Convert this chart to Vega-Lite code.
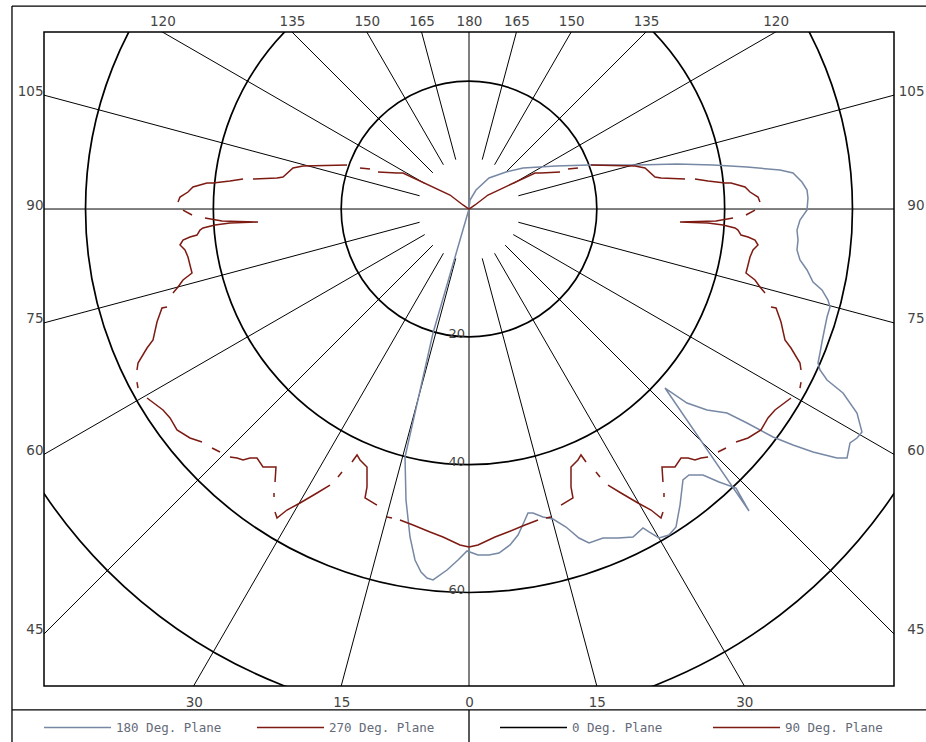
{
  "$schema": "https://vega.github.io/schema/vega-lite/v6.json",
  "width": 850,
  "height": 654,
  "autosize": {"type": "none"},
  "padding": {"left": 44, "top": 32, "right": 32, "bottom": 56},
  "background": "white",
  "config": {
    "view": {"stroke": "black", "strokeWidth": 1.5},
    "axis": {"labelFont": "DejaVu Sans", "labelFontSize": 13.5, "labelColor": "#444444", "ticks": false, "domain": false, "grid": false, "labelOverlap": false, "labelFlush": false}
  },
  "resolve": {"axis": {"x": "independent", "y": "independent"}},
  "layer": [
    {
      "data": {"values": [{"r": 20}, {"r": 40}, {"r": 60}, {"r": 80}]},
      "mark": {"type": "arc", "filled": false, "stroke": "black", "strokeWidth": 1.7, "clip": true, "theta": 0, "theta2": 6.2832},
      "encoding": {
        "x": {"datum": 0, "type": "quantitative", "scale": {"domain": [-66.5, 66.5], "nice": false, "zero": false}, "axis": null},
        "y": {"datum": 0, "type": "quantitative", "scale": {"domain": [-74.64, 27.7], "nice": false, "zero": false}, "axis": null},
        "radius": {"field": "r", "type": "quantitative", "stack": null, "scale": {"type": "linear", "domain": [0, 80], "range": [0, 511.3], "zero": true}}
      }
    },
    {
      "data": {"values": [
        {"a": 0, "x1": 0, "y1": -110, "x2": 0, "y2": 110},
        {"a": 90, "x1": -110, "y1": 0, "x2": 110, "y2": 0},
        {"a": 15, "x1": -2.071, "y1": -7.727, "x2": -28.47, "y2": -106.25},
        {"a": 30, "x1": -4, "y1": -6.928, "x2": -55, "y2": -95.26},
        {"a": 45, "x1": -5.657, "y1": -5.657, "x2": -77.78, "y2": -77.78},
        {"a": 60, "x1": -6.928, "y1": -4, "x2": -95.26, "y2": -55},
        {"a": 75, "x1": -7.727, "y1": -2.071, "x2": -106.25, "y2": -28.47},
        {"a": 105, "x1": -7.727, "y1": 2.071, "x2": -106.25, "y2": 28.47},
        {"a": 120, "x1": -6.928, "y1": 4, "x2": -95.26, "y2": 55},
        {"a": 135, "x1": -5.657, "y1": 5.657, "x2": -77.78, "y2": 77.78},
        {"a": 150, "x1": -4, "y1": 6.928, "x2": -55, "y2": 95.26},
        {"a": 165, "x1": -2.071, "y1": 7.727, "x2": -28.47, "y2": 106.25},
        {"a": 15, "x1": 2.071, "y1": -7.727, "x2": 28.47, "y2": -106.25},
        {"a": 30, "x1": 4, "y1": -6.928, "x2": 55, "y2": -95.26},
        {"a": 45, "x1": 5.657, "y1": -5.657, "x2": 77.78, "y2": -77.78},
        {"a": 60, "x1": 6.928, "y1": -4, "x2": 95.26, "y2": -55},
        {"a": 75, "x1": 7.727, "y1": -2.071, "x2": 106.25, "y2": -28.47},
        {"a": 105, "x1": 7.727, "y1": 2.071, "x2": 106.25, "y2": 28.47},
        {"a": 120, "x1": 6.928, "y1": 4, "x2": 95.26, "y2": 55},
        {"a": 135, "x1": 5.657, "y1": 5.657, "x2": 77.78, "y2": 77.78},
        {"a": 150, "x1": 4, "y1": 6.928, "x2": 55, "y2": 95.26},
        {"a": 165, "x1": 2.071, "y1": 7.727, "x2": 28.47, "y2": 106.25}
      ]},
      "mark": {"type": "rule", "clip": true, "color": "black", "strokeWidth": 1},
      "encoding": {
        "x": {"field": "x1", "type": "quantitative", "scale": {"domain": [-66.5, 66.5], "nice": false, "zero": false},
              "axis": {"orient": "top", "title": null, "values": [-47.98, -27.7, -15.99, -7.42, 0, 7.42, 15.99, 27.7, 47.98],
                       "labelExpr": "format(180 - atan(abs(datum.value)/27.7)*180/PI, '.0f')", "labelPadding": 3.5}},
        "y": {"field": "y1", "type": "quantitative", "scale": {"domain": [-74.64, 27.7], "nice": false, "zero": false},
              "axis": {"orient": "left", "title": null, "values": [17.82, 0, -17.82, -38.39, -66.5],
                       "labelExpr": "format(90 + atan(datum.value/66.5)*180/PI, '.0f')", "labelBaseline": "alphabetic", "labelPadding": 1}},
        "x2": {"field": "x2"},
        "y2": {"field": "y2"}
      }
    },
    {
      "data": {"values": [{"v": -20, "t": "20"}, {"v": -40, "t": "40"}, {"v": -60, "t": "60"}]},
      "mark": {"type": "text", "align": "right", "baseline": "alphabetic", "dx": -4, "dy": 1.5, "font": "DejaVu Sans", "fontSize": 13, "color": "#444444"},
      "encoding": {
        "x": {"datum": 0, "type": "quantitative", "scale": {"domain": [-66.5, 66.5], "nice": false, "zero": false}, "axis": null},
        "y": {"field": "v", "type": "quantitative", "scale": {"domain": [-74.64, 27.7], "nice": false, "zero": false}, "axis": null},
        "text": {"field": "t"}
      }
    },
    {
      "data": {"values": [
        {"s": "180 Deg. Plane", "g": "B", "i": 0, "x": 0, "y": 0},
        {"s": "180 Deg. Plane", "g": "B", "i": 1, "x": -5.63, "y": -19.40},
        {"s": "180 Deg. Plane", "g": "B", "i": 2, "x": -10.01, "y": -38.80},
        {"s": "180 Deg. Plane", "g": "B", "i": 3, "x": -9.86, "y": -45.53},
        {"s": "180 Deg. Plane", "g": "B", "i": 4, "x": -9.23, "y": -51.32},
        {"s": "180 Deg. Plane", "g": "B", "i": 5, "x": -8.45, "y": -54.92},
        {"s": "180 Deg. Plane", "g": "B", "i": 6, "x": -7.51, "y": -56.80},
        {"s": "180 Deg. Plane", "g": "B", "i": 7, "x": -6.57, "y": -57.74},
        {"s": "180 Deg. Plane", "g": "B", "i": 8, "x": -5.63, "y": -58.05},
        {"s": "180 Deg. Plane", "g": "B", "i": 9, "x": -3.44, "y": -56.49},
        {"s": "180 Deg. Plane", "g": "B", "i": 10, "x": -1.72, "y": -54.92},
        {"s": "180 Deg. Plane", "g": "B", "i": 11, "x": -0.31, "y": -53.51},
        {"s": "180 Deg. Plane", "g": "B", "i": 12, "x": 1.41, "y": -54.14},
        {"s": "180 Deg. Plane", "g": "B", "i": 13, "x": 3.13, "y": -54.14},
        {"s": "180 Deg. Plane", "g": "B", "i": 14, "x": 4.69, "y": -53.83},
        {"s": "180 Deg. Plane", "g": "B", "i": 15, "x": 6.42, "y": -52.57},
        {"s": "180 Deg. Plane", "g": "B", "i": 16, "x": 7.67, "y": -51.01},
        {"s": "180 Deg. Plane", "g": "B", "i": 17, "x": 8.61, "y": -48.98},
        {"s": "180 Deg. Plane", "g": "B", "i": 18, "x": 9.23, "y": -47.57},
        {"s": "180 Deg. Plane", "g": "B", "i": 19, "x": 10.01, "y": -47.57},
        {"s": "180 Deg. Plane", "g": "B", "i": 20, "x": 11.58, "y": -48.19},
        {"s": "180 Deg. Plane", "g": "B", "i": 21, "x": 13.14, "y": -48.51},
        {"s": "180 Deg. Plane", "g": "B", "i": 22, "x": 15.18, "y": -49.76},
        {"s": "180 Deg. Plane", "g": "B", "i": 23, "x": 17.21, "y": -51.48},
        {"s": "180 Deg. Plane", "g": "B", "i": 24, "x": 18.78, "y": -52.26},
        {"s": "180 Deg. Plane", "g": "B", "i": 25, "x": 20.97, "y": -51.48},
        {"s": "180 Deg. Plane", "g": "B", "i": 26, "x": 23.31, "y": -51.48},
        {"s": "180 Deg. Plane", "g": "B", "i": 27, "x": 25.66, "y": -51.32},
        {"s": "180 Deg. Plane", "g": "B", "i": 28, "x": 27.23, "y": -49.91},
        {"s": "180 Deg. Plane", "g": "B", "i": 29, "x": 28.16, "y": -50.54},
        {"s": "180 Deg. Plane", "g": "B", "i": 30, "x": 29.73, "y": -51.48},
        {"s": "180 Deg. Plane", "g": "B", "i": 31, "x": 31.29, "y": -51.01},
        {"s": "180 Deg. Plane", "g": "B", "i": 32, "x": 32.39, "y": -49.76},
        {"s": "180 Deg. Plane", "g": "B", "i": 33, "x": 33.02, "y": -46.32},
        {"s": "180 Deg. Plane", "g": "B", "i": 34, "x": 33.48, "y": -42.40},
        {"s": "180 Deg. Plane", "g": "B", "i": 35, "x": 34.42, "y": -41.62},
        {"s": "180 Deg. Plane", "g": "B", "i": 36, "x": 36.61, "y": -41.62},
        {"s": "180 Deg. Plane", "g": "B", "i": 37, "x": 39.12, "y": -42.72},
        {"s": "180 Deg. Plane", "g": "B", "i": 38, "x": 41.78, "y": -43.66},
        {"s": "180 Deg. Plane", "g": "B", "i": 39, "x": 43.81, "y": -47.25},
        {"s": "180 Deg. Plane", "g": "B", "i": 40, "x": 30.67, "y": -28.01},
        {"s": "180 Deg. Plane", "g": "B", "i": 41, "x": 34.11, "y": -30.36},
        {"s": "180 Deg. Plane", "g": "B", "i": 42, "x": 37.24, "y": -31.45},
        {"s": "180 Deg. Plane", "g": "B", "i": 43, "x": 40.37, "y": -31.92},
        {"s": "180 Deg. Plane", "g": "B", "i": 44, "x": 43.50, "y": -33.48},
        {"s": "180 Deg. Plane", "g": "B", "i": 45, "x": 47.57, "y": -35.68},
        {"s": "180 Deg. Plane", "g": "B", "i": 46, "x": 50.70, "y": -36.93},
        {"s": "180 Deg. Plane", "g": "B", "i": 47, "x": 53.83, "y": -38.02},
        {"s": "180 Deg. Plane", "g": "B", "i": 48, "x": 57.58, "y": -38.96},
        {"s": "180 Deg. Plane", "g": "B", "i": 49, "x": 59.15, "y": -38.96},
        {"s": "180 Deg. Plane", "g": "B", "i": 50, "x": 59.62, "y": -36.61},
        {"s": "180 Deg. Plane", "g": "B", "i": 51, "x": 60.71, "y": -35.83},
        {"s": "180 Deg. Plane", "g": "B", "i": 52, "x": 61.49, "y": -34.89},
        {"s": "180 Deg. Plane", "g": "B", "i": 53, "x": 60.71, "y": -31.92},
        {"s": "180 Deg. Plane", "g": "B", "i": 54, "x": 58.52, "y": -28.79},
        {"s": "180 Deg. Plane", "g": "B", "i": 55, "x": 56.02, "y": -26.76},
        {"s": "180 Deg. Plane", "g": "B", "i": 56, "x": 54.92, "y": -25.19},
        {"s": "180 Deg. Plane", "g": "B", "i": 57, "x": 54.61, "y": -24.10},
        {"s": "180 Deg. Plane", "g": "B", "i": 58, "x": 54.92, "y": -22.53},
        {"s": "180 Deg. Plane", "g": "B", "i": 59, "x": 55.23, "y": -20.81},
        {"s": "180 Deg. Plane", "g": "B", "i": 60, "x": 55.70, "y": -18.46},
        {"s": "180 Deg. Plane", "g": "B", "i": 61, "x": 56.02, "y": -16.90},
        {"s": "180 Deg. Plane", "g": "B", "i": 62, "x": 56.49, "y": -15.33},
        {"s": "180 Deg. Plane", "g": "B", "i": 63, "x": 56.17, "y": -14.24},
        {"s": "180 Deg. Plane", "g": "B", "i": 64, "x": 55.23, "y": -12.67},
        {"s": "180 Deg. Plane", "g": "B", "i": 65, "x": 53.83, "y": -11.42},
        {"s": "180 Deg. Plane", "g": "B", "i": 66, "x": 52.89, "y": -9.54},
        {"s": "180 Deg. Plane", "g": "B", "i": 67, "x": 51.79, "y": -7.98},
        {"s": "180 Deg. Plane", "g": "B", "i": 68, "x": 51.32, "y": -6.42},
        {"s": "180 Deg. Plane", "g": "B", "i": 69, "x": 51.48, "y": -4.85},
        {"s": "180 Deg. Plane", "g": "B", "i": 70, "x": 51.32, "y": -3.29},
        {"s": "180 Deg. Plane", "g": "B", "i": 71, "x": 51.79, "y": -1.72},
        {"s": "180 Deg. Plane", "g": "B", "i": 72, "x": 52.89, "y": -0.16},
        {"s": "180 Deg. Plane", "g": "B", "i": 73, "x": 53.04, "y": 1.72},
        {"s": "180 Deg. Plane", "g": "B", "i": 74, "x": 52.89, "y": 2.97},
        {"s": "180 Deg. Plane", "g": "B", "i": 75, "x": 52.10, "y": 4.22},
        {"s": "180 Deg. Plane", "g": "B", "i": 76, "x": 50.70, "y": 5.63},
        {"s": "180 Deg. Plane", "g": "B", "i": 77, "x": 48.66, "y": 6.10},
        {"s": "180 Deg. Plane", "g": "B", "i": 78, "x": 43.50, "y": 6.57},
        {"s": "180 Deg. Plane", "g": "B", "i": 79, "x": 38.18, "y": 6.88},
        {"s": "180 Deg. Plane", "g": "B", "i": 80, "x": 32.55, "y": 7.04},
        {"s": "180 Deg. Plane", "g": "B", "i": 81, "x": 26.29, "y": 6.88},
        {"s": "180 Deg. Plane", "g": "B", "i": 82, "x": 18.78, "y": 6.88},
        {"s": "180 Deg. Plane", "g": "B", "i": 83, "x": 13.61, "y": 6.73},
        {"s": "180 Deg. Plane", "g": "B", "i": 84, "x": 8.45, "y": 6.42},
        {"s": "180 Deg. Plane", "g": "B", "i": 85, "x": 5.79, "y": 5.79},
        {"s": "180 Deg. Plane", "g": "B", "i": 86, "x": 3.13, "y": 4.85},
        {"s": "180 Deg. Plane", "g": "B", "i": 87, "x": 1.10, "y": 2.97},
        {"s": "180 Deg. Plane", "g": "B", "i": 88, "x": 0.16, "y": 1.41},
        {"s": "180 Deg. Plane", "g": "B", "i": 89, "x": 0, "y": 0},
        {"s": "270 Deg. Plane", "g": "LA", "i": 100, "x": 0, "y": -52.89},
        {"s": "270 Deg. Plane", "g": "LA", "i": 101, "x": -1.41, "y": -52.57},
        {"s": "270 Deg. Plane", "g": "LA", "i": 102, "x": -4.07, "y": -51.32},
        {"s": "270 Deg. Plane", "g": "LA", "i": 103, "x": -6.10, "y": -50.54},
        {"s": "270 Deg. Plane", "g": "LA", "i": 104, "x": -8.76, "y": -49.44},
        {"s": "270 Deg. Plane", "g": "LA", "i": 105, "x": -10.80, "y": -48.66},
        {"s": "270 Deg. Plane", "g": "LB", "i": 106, "x": -12.05, "y": -48.35},
        {"s": "270 Deg. Plane", "g": "LB", "i": 107, "x": -12.83, "y": -48.19},
        {"s": "270 Deg. Plane", "g": "LC", "i": 108, "x": -14.40, "y": -46.32},
        {"s": "270 Deg. Plane", "g": "LC", "i": 109, "x": -16.27, "y": -45.22},
        {"s": "270 Deg. Plane", "g": "LC", "i": 110, "x": -15.96, "y": -43.50},
        {"s": "270 Deg. Plane", "g": "LC", "i": 111, "x": -15.96, "y": -40.37},
        {"s": "270 Deg. Plane", "g": "LC", "i": 112, "x": -17.05, "y": -39.27},
        {"s": "270 Deg. Plane", "g": "LC", "i": 113, "x": -17.52, "y": -38.49},
        {"s": "270 Deg. Plane", "g": "LC", "i": 114, "x": -18.31, "y": -39.59},
        {"s": "270 Deg. Plane", "g": "LD", "i": 115, "x": -19.87, "y": -41.15},
        {"s": "270 Deg. Plane", "g": "LD", "i": 116, "x": -20.50, "y": -41.93},
        {"s": "270 Deg. Plane", "g": "LE", "i": 117, "x": -21.75, "y": -43.19},
        {"s": "270 Deg. Plane", "g": "LE", "i": 118, "x": -23.78, "y": -44.44},
        {"s": "270 Deg. Plane", "g": "LE", "i": 119, "x": -26.44, "y": -46.00},
        {"s": "270 Deg. Plane", "g": "LE", "i": 120, "x": -28.48, "y": -47.10},
        {"s": "270 Deg. Plane", "g": "LE", "i": 121, "x": -30.04, "y": -48.35},
        {"s": "270 Deg. Plane", "g": "LE", "i": 122, "x": -30.35, "y": -47.41},
        {"s": "270 Deg. Plane", "g": "LF", "i": 123, "x": -30.51, "y": -45.06},
        {"s": "270 Deg. Plane", "g": "LF", "i": 124, "x": -30.51, "y": -44.44},
        {"s": "270 Deg. Plane", "g": "LG", "i": 125, "x": -30.35, "y": -42.72},
        {"s": "270 Deg. Plane", "g": "LG", "i": 126, "x": -30.20, "y": -40.37},
        {"s": "270 Deg. Plane", "g": "LG", "i": 127, "x": -32.23, "y": -40.37},
        {"s": "270 Deg. Plane", "g": "LG", "i": 128, "x": -33.17, "y": -38.96},
        {"s": "270 Deg. Plane", "g": "LG", "i": 129, "x": -34.27, "y": -38.96},
        {"s": "270 Deg. Plane", "g": "LG", "i": 130, "x": -35.36, "y": -39.27},
        {"s": "270 Deg. Plane", "g": "LG", "i": 131, "x": -36.30, "y": -38.96},
        {"s": "270 Deg. Plane", "g": "LG", "i": 132, "x": -37.40, "y": -38.80},
        {"s": "270 Deg. Plane", "g": "LH", "i": 133, "x": -38.96, "y": -38.02},
        {"s": "270 Deg. Plane", "g": "LH", "i": 134, "x": -40.21, "y": -37.40},
        {"s": "270 Deg. Plane", "g": "LI", "i": 135, "x": -41.78, "y": -36.46},
        {"s": "270 Deg. Plane", "g": "LI", "i": 136, "x": -43.66, "y": -35.83},
        {"s": "270 Deg. Plane", "g": "LI", "i": 137, "x": -45.69, "y": -34.58},
        {"s": "270 Deg. Plane", "g": "LI", "i": 138, "x": -46.78, "y": -32.70},
        {"s": "270 Deg. Plane", "g": "LI", "i": 139, "x": -47.88, "y": -31.45},
        {"s": "270 Deg. Plane", "g": "LI", "i": 140, "x": -50.38, "y": -29.57},
        {"s": "270 Deg. Plane", "g": "LJ", "i": 141, "x": -51.79, "y": -28.01},
        {"s": "270 Deg. Plane", "g": "LJ", "i": 142, "x": -51.95, "y": -27.07},
        {"s": "270 Deg. Plane", "g": "LK", "i": 143, "x": -51.95, "y": -25.19},
        {"s": "270 Deg. Plane", "g": "LK", "i": 144, "x": -51.79, "y": -24.10},
        {"s": "270 Deg. Plane", "g": "LK", "i": 145, "x": -50.38, "y": -21.75},
        {"s": "270 Deg. Plane", "g": "LK", "i": 146, "x": -49.44, "y": -20.50},
        {"s": "270 Deg. Plane", "g": "LK", "i": 147, "x": -48.82, "y": -17.68},
        {"s": "270 Deg. Plane", "g": "LK", "i": 148, "x": -48.04, "y": -15.49},
        {"s": "270 Deg. Plane", "g": "LK", "i": 149, "x": -47.25, "y": -15.33},
        {"s": "270 Deg. Plane", "g": "LL", "i": 150, "x": -46.32, "y": -13.14},
        {"s": "270 Deg. Plane", "g": "LL", "i": 151, "x": -45.53, "y": -12.20},
        {"s": "270 Deg. Plane", "g": "LL", "i": 152, "x": -44.75, "y": -11.11},
        {"s": "270 Deg. Plane", "g": "LL", "i": 153, "x": -43.34, "y": -10.01},
        {"s": "270 Deg. Plane", "g": "LL", "i": 154, "x": -43.66, "y": -8.76},
        {"s": "270 Deg. Plane", "g": "LL", "i": 155, "x": -43.97, "y": -7.51},
        {"s": "270 Deg. Plane", "g": "LL", "i": 156, "x": -44.44, "y": -6.42},
        {"s": "270 Deg. Plane", "g": "LL", "i": 157, "x": -45.22, "y": -5.63},
        {"s": "270 Deg. Plane", "g": "LL", "i": 158, "x": -44.75, "y": -4.85},
        {"s": "270 Deg. Plane", "g": "LL", "i": 159, "x": -43.66, "y": -4.38},
        {"s": "270 Deg. Plane", "g": "LL", "i": 160, "x": -42.56, "y": -4.07},
        {"s": "270 Deg. Plane", "g": "LL", "i": 161, "x": -42.09, "y": -3.29},
        {"s": "270 Deg. Plane", "g": "LL", "i": 162, "x": -41.62, "y": -2.97},
        {"s": "270 Deg. Plane", "g": "LL", "i": 163, "x": -39.74, "y": -2.50},
        {"s": "270 Deg. Plane", "g": "LL", "i": 164, "x": -37.40, "y": -2.19},
        {"s": "270 Deg. Plane", "g": "LL", "i": 165, "x": -33.02, "y": -2.03},
        {"s": "270 Deg. Plane", "g": "LL", "i": 166, "x": -38.65, "y": -1.88},
        {"s": "270 Deg. Plane", "g": "LL", "i": 167, "x": -41.31, "y": -1.41},
        {"s": "270 Deg. Plane", "g": "LM", "i": 168, "x": -43.34, "y": -0.94},
        {"s": "270 Deg. Plane", "g": "LM", "i": 169, "x": -44.75, "y": -0.16},
        {"s": "270 Deg. Plane", "g": "LN", "i": 170, "x": -45.53, "y": 1.10},
        {"s": "270 Deg. Plane", "g": "LN", "i": 171, "x": -45.22, "y": 1.88},
        {"s": "270 Deg. Plane", "g": "LN", "i": 172, "x": -43.97, "y": 2.66},
        {"s": "270 Deg. Plane", "g": "LN", "i": 173, "x": -43.19, "y": 3.44},
        {"s": "270 Deg. Plane", "g": "LN", "i": 174, "x": -41.00, "y": 4.07},
        {"s": "270 Deg. Plane", "g": "LN", "i": 175, "x": -40.06, "y": 4.07},
        {"s": "270 Deg. Plane", "g": "LN", "i": 176, "x": -37.40, "y": 4.38},
        {"s": "270 Deg. Plane", "g": "LN", "i": 177, "x": -35.36, "y": 4.69},
        {"s": "270 Deg. Plane", "g": "LO", "i": 178, "x": -33.80, "y": 4.69},
        {"s": "270 Deg. Plane", "g": "LO", "i": 179, "x": -30.04, "y": 4.85},
        {"s": "270 Deg. Plane", "g": "LO", "i": 180, "x": -29.10, "y": 5.01},
        {"s": "270 Deg. Plane", "g": "LO", "i": 181, "x": -27.54, "y": 6.42},
        {"s": "270 Deg. Plane", "g": "LO", "i": 182, "x": -25.97, "y": 6.73},
        {"s": "270 Deg. Plane", "g": "LO", "i": 183, "x": -19.09, "y": 6.88},
        {"s": "270 Deg. Plane", "g": "LP", "i": 184, "x": -17.05, "y": 6.42},
        {"s": "270 Deg. Plane", "g": "LP", "i": 185, "x": -15.49, "y": 6.26},
        {"s": "270 Deg. Plane", "g": "LQ", "i": 186, "x": -14.24, "y": 5.79},
        {"s": "270 Deg. Plane", "g": "LQ", "i": 187, "x": -11.27, "y": 5.63},
        {"s": "270 Deg. Plane", "g": "LQ", "i": 188, "x": -10.33, "y": 5.63},
        {"s": "270 Deg. Plane", "g": "LQ", "i": 189, "x": -2.97, "y": 2.19},
        {"s": "270 Deg. Plane", "g": "LQ", "i": 190, "x": -0.94, "y": 0.63},
        {"s": "270 Deg. Plane", "g": "LQ", "i": 191, "x": 0, "y": 0}
      ]},
      "mark": {"type": "line", "strokeWidth": 1.5, "clip": true},
      "encoding": {
        "x": {"field": "x", "type": "quantitative", "scale": {"domain": [-66.5, 66.5], "nice": false, "zero": false},
              "axis": {"orient": "bottom", "title": null, "values": [-43.07, -19.99, 0, 19.99, 43.07],
                       "labelExpr": "format(atan(abs(datum.value)/74.64)*180/PI, '.0f')", "labelPadding": 9}},
        "y": {"field": "y", "type": "quantitative", "scale": {"domain": [-74.64, 27.7], "nice": false, "zero": false},
              "axis": {"orient": "right", "title": null, "values": [17.82, 0, -17.82, -38.39, -66.5],
                       "labelExpr": "format(90 + atan(datum.value/66.5)*180/PI, '.0f')", "labelBaseline": "alphabetic", "labelAlign": "right", "labelPadding": 30}},
        "stroke": {"field": "s", "type": "nominal",
                   "scale": {"domain": ["180 Deg. Plane", "270 Deg. Plane"], "range": ["#7788a4", "#7d1a12"]},
                   "legend": {"orient": "none", "legendX": -1, "legendY": 661, "direction": "horizontal", "title": null,
                              "symbolType": "stroke", "symbolSize": 4489, "symbolStrokeWidth": 1.5,
                              "labelFont": "DejaVu Sans Mono", "labelFontSize": 12.5, "labelColor": "#646a78",
                              "labelOffset": 4, "columnPadding": 32, "padding": 0}},
        "detail": {"field": "g"},
        "order": {"field": "i", "type": "quantitative"}
      }
    },
    {
      "data": {"values": [
        {"s": "90 Deg. Plane", "g": "RA", "i": 200, "x": 0, "y": -52.89},
        {"s": "90 Deg. Plane", "g": "RA", "i": 201, "x": 1.41, "y": -52.57},
        {"s": "90 Deg. Plane", "g": "RA", "i": 202, "x": 4.07, "y": -51.32},
        {"s": "90 Deg. Plane", "g": "RA", "i": 203, "x": 6.10, "y": -50.54},
        {"s": "90 Deg. Plane", "g": "RA", "i": 204, "x": 8.76, "y": -49.44},
        {"s": "90 Deg. Plane", "g": "RA", "i": 205, "x": 10.80, "y": -48.66},
        {"s": "90 Deg. Plane", "g": "RB", "i": 206, "x": 12.05, "y": -48.35},
        {"s": "90 Deg. Plane", "g": "RB", "i": 207, "x": 12.83, "y": -48.19},
        {"s": "90 Deg. Plane", "g": "RC", "i": 208, "x": 14.40, "y": -46.32},
        {"s": "90 Deg. Plane", "g": "RC", "i": 209, "x": 16.27, "y": -45.22},
        {"s": "90 Deg. Plane", "g": "RC", "i": 210, "x": 15.96, "y": -43.50},
        {"s": "90 Deg. Plane", "g": "RC", "i": 211, "x": 15.96, "y": -40.37},
        {"s": "90 Deg. Plane", "g": "RC", "i": 212, "x": 17.05, "y": -39.27},
        {"s": "90 Deg. Plane", "g": "RC", "i": 213, "x": 17.52, "y": -38.49},
        {"s": "90 Deg. Plane", "g": "RC", "i": 214, "x": 18.31, "y": -39.59},
        {"s": "90 Deg. Plane", "g": "RD", "i": 215, "x": 19.87, "y": -41.15},
        {"s": "90 Deg. Plane", "g": "RD", "i": 216, "x": 20.50, "y": -41.93},
        {"s": "90 Deg. Plane", "g": "RE", "i": 217, "x": 21.75, "y": -43.19},
        {"s": "90 Deg. Plane", "g": "RE", "i": 218, "x": 23.78, "y": -44.44},
        {"s": "90 Deg. Plane", "g": "RE", "i": 219, "x": 26.44, "y": -46.00},
        {"s": "90 Deg. Plane", "g": "RE", "i": 220, "x": 28.48, "y": -47.10},
        {"s": "90 Deg. Plane", "g": "RE", "i": 221, "x": 30.04, "y": -48.35},
        {"s": "90 Deg. Plane", "g": "RE", "i": 222, "x": 30.35, "y": -47.41},
        {"s": "90 Deg. Plane", "g": "RF", "i": 223, "x": 30.51, "y": -45.06},
        {"s": "90 Deg. Plane", "g": "RF", "i": 224, "x": 30.51, "y": -44.44},
        {"s": "90 Deg. Plane", "g": "RG", "i": 225, "x": 30.35, "y": -42.72},
        {"s": "90 Deg. Plane", "g": "RG", "i": 226, "x": 30.20, "y": -40.37},
        {"s": "90 Deg. Plane", "g": "RG", "i": 227, "x": 32.23, "y": -40.37},
        {"s": "90 Deg. Plane", "g": "RG", "i": 228, "x": 33.17, "y": -38.96},
        {"s": "90 Deg. Plane", "g": "RG", "i": 229, "x": 34.27, "y": -38.96},
        {"s": "90 Deg. Plane", "g": "RG", "i": 230, "x": 35.36, "y": -39.27},
        {"s": "90 Deg. Plane", "g": "RG", "i": 231, "x": 36.30, "y": -38.96},
        {"s": "90 Deg. Plane", "g": "RG", "i": 232, "x": 37.40, "y": -38.80},
        {"s": "90 Deg. Plane", "g": "RH", "i": 233, "x": 38.96, "y": -38.02},
        {"s": "90 Deg. Plane", "g": "RH", "i": 234, "x": 40.21, "y": -37.40},
        {"s": "90 Deg. Plane", "g": "RI", "i": 235, "x": 41.78, "y": -36.46},
        {"s": "90 Deg. Plane", "g": "RI", "i": 236, "x": 43.66, "y": -35.83},
        {"s": "90 Deg. Plane", "g": "RI", "i": 237, "x": 45.69, "y": -34.58},
        {"s": "90 Deg. Plane", "g": "RI", "i": 238, "x": 46.78, "y": -32.70},
        {"s": "90 Deg. Plane", "g": "RI", "i": 239, "x": 47.88, "y": -31.45},
        {"s": "90 Deg. Plane", "g": "RI", "i": 240, "x": 50.38, "y": -29.57},
        {"s": "90 Deg. Plane", "g": "RJ", "i": 241, "x": 51.79, "y": -28.01},
        {"s": "90 Deg. Plane", "g": "RJ", "i": 242, "x": 51.95, "y": -27.07},
        {"s": "90 Deg. Plane", "g": "RK", "i": 243, "x": 51.95, "y": -25.19},
        {"s": "90 Deg. Plane", "g": "RK", "i": 244, "x": 51.79, "y": -24.10},
        {"s": "90 Deg. Plane", "g": "RK", "i": 245, "x": 50.38, "y": -21.75},
        {"s": "90 Deg. Plane", "g": "RK", "i": 246, "x": 49.44, "y": -20.50},
        {"s": "90 Deg. Plane", "g": "RK", "i": 247, "x": 48.82, "y": -17.68},
        {"s": "90 Deg. Plane", "g": "RK", "i": 248, "x": 48.04, "y": -15.49},
        {"s": "90 Deg. Plane", "g": "RK", "i": 249, "x": 47.25, "y": -15.33},
        {"s": "90 Deg. Plane", "g": "RL", "i": 250, "x": 46.32, "y": -13.14},
        {"s": "90 Deg. Plane", "g": "RL", "i": 251, "x": 45.53, "y": -12.20},
        {"s": "90 Deg. Plane", "g": "RL", "i": 252, "x": 44.75, "y": -11.11},
        {"s": "90 Deg. Plane", "g": "RL", "i": 253, "x": 43.34, "y": -10.01},
        {"s": "90 Deg. Plane", "g": "RL", "i": 254, "x": 43.66, "y": -8.76},
        {"s": "90 Deg. Plane", "g": "RL", "i": 255, "x": 43.97, "y": -7.51},
        {"s": "90 Deg. Plane", "g": "RL", "i": 256, "x": 44.44, "y": -6.42},
        {"s": "90 Deg. Plane", "g": "RL", "i": 257, "x": 45.22, "y": -5.63},
        {"s": "90 Deg. Plane", "g": "RL", "i": 258, "x": 44.75, "y": -4.85},
        {"s": "90 Deg. Plane", "g": "RL", "i": 259, "x": 43.66, "y": -4.38},
        {"s": "90 Deg. Plane", "g": "RL", "i": 260, "x": 42.56, "y": -4.07},
        {"s": "90 Deg. Plane", "g": "RL", "i": 261, "x": 42.09, "y": -3.29},
        {"s": "90 Deg. Plane", "g": "RL", "i": 262, "x": 41.62, "y": -2.97},
        {"s": "90 Deg. Plane", "g": "RL", "i": 263, "x": 39.74, "y": -2.50},
        {"s": "90 Deg. Plane", "g": "RL", "i": 264, "x": 37.40, "y": -2.19},
        {"s": "90 Deg. Plane", "g": "RL", "i": 265, "x": 33.02, "y": -2.03},
        {"s": "90 Deg. Plane", "g": "RL", "i": 266, "x": 38.65, "y": -1.88},
        {"s": "90 Deg. Plane", "g": "RL", "i": 267, "x": 41.31, "y": -1.41},
        {"s": "90 Deg. Plane", "g": "RM", "i": 268, "x": 43.34, "y": -0.94},
        {"s": "90 Deg. Plane", "g": "RM", "i": 269, "x": 44.75, "y": -0.16},
        {"s": "90 Deg. Plane", "g": "RN", "i": 270, "x": 45.53, "y": 1.10},
        {"s": "90 Deg. Plane", "g": "RN", "i": 271, "x": 45.22, "y": 1.88},
        {"s": "90 Deg. Plane", "g": "RN", "i": 272, "x": 43.97, "y": 2.66},
        {"s": "90 Deg. Plane", "g": "RN", "i": 273, "x": 43.19, "y": 3.44},
        {"s": "90 Deg. Plane", "g": "RN", "i": 274, "x": 41.00, "y": 4.07},
        {"s": "90 Deg. Plane", "g": "RN", "i": 275, "x": 40.06, "y": 4.07},
        {"s": "90 Deg. Plane", "g": "RN", "i": 276, "x": 37.40, "y": 4.38},
        {"s": "90 Deg. Plane", "g": "RN", "i": 277, "x": 35.36, "y": 4.69},
        {"s": "90 Deg. Plane", "g": "RO", "i": 278, "x": 33.80, "y": 4.69},
        {"s": "90 Deg. Plane", "g": "RO", "i": 279, "x": 30.04, "y": 4.85},
        {"s": "90 Deg. Plane", "g": "RO", "i": 280, "x": 29.10, "y": 5.01},
        {"s": "90 Deg. Plane", "g": "RO", "i": 281, "x": 27.54, "y": 6.42},
        {"s": "90 Deg. Plane", "g": "RO", "i": 282, "x": 25.97, "y": 6.73},
        {"s": "90 Deg. Plane", "g": "RO", "i": 283, "x": 19.09, "y": 6.88},
        {"s": "90 Deg. Plane", "g": "RP", "i": 284, "x": 17.05, "y": 6.42},
        {"s": "90 Deg. Plane", "g": "RP", "i": 285, "x": 15.49, "y": 6.26},
        {"s": "90 Deg. Plane", "g": "RQ", "i": 286, "x": 14.24, "y": 5.79},
        {"s": "90 Deg. Plane", "g": "RQ", "i": 287, "x": 11.27, "y": 5.63},
        {"s": "90 Deg. Plane", "g": "RQ", "i": 288, "x": 10.33, "y": 5.63},
        {"s": "90 Deg. Plane", "g": "RQ", "i": 289, "x": 2.97, "y": 2.19},
        {"s": "90 Deg. Plane", "g": "RQ", "i": 290, "x": 0.94, "y": 0.63},
        {"s": "90 Deg. Plane", "g": "RQ", "i": 291, "x": 0, "y": 0}
      ]},
      "mark": {"type": "line", "strokeWidth": 1.5, "clip": true},
      "encoding": {
        "x": {"field": "x", "type": "quantitative", "scale": {"domain": [-66.5, 66.5], "nice": false, "zero": false}, "axis": null},
        "y": {"field": "y", "type": "quantitative", "scale": {"domain": [-74.64, 27.7], "nice": false, "zero": false}, "axis": null},
        "color": {"field": "s", "type": "nominal",
                  "scale": {"domain": ["0 Deg. Plane", "90 Deg. Plane"], "range": ["#000000", "#7d1a12"]},
                  "legend": {"orient": "none", "legendX": 455, "legendY": 661, "direction": "horizontal", "title": null,
                             "symbolType": "stroke", "symbolSize": 4489, "symbolStrokeWidth": 1.5,
                             "labelFont": "DejaVu Sans Mono", "labelFontSize": 12.5, "labelColor": "#646a78",
                             "labelOffset": 4, "columnPadding": 47, "padding": 0}},
        "detail": {"field": "g"},
        "order": {"field": "i", "type": "quantitative"}
      }
    },
    {
      "data": {"values": [{}]},
      "mark": {"type": "rule", "clip": false, "color": "black", "strokeWidth": 1.3},
      "encoding": {
        "x": {"datum": -71.51, "type": "quantitative", "scale": {"domain": [-66.5, 66.5], "nice": false, "zero": false}, "axis": null},
        "x2": {"datum": 76},
        "y": {"datum": 31.76, "type": "quantitative", "scale": {"domain": [-74.64, 27.7], "nice": false, "zero": false}, "axis": null}
      }
    },
    {
      "data": {"values": [{}]},
      "mark": {"type": "rule", "clip": false, "color": "black", "strokeWidth": 1.3},
      "encoding": {
        "x": {"datum": -71.51, "type": "quantitative", "scale": {"domain": [-66.5, 66.5], "nice": false, "zero": false}, "axis": null},
        "y": {"datum": 31.76, "type": "quantitative", "scale": {"domain": [-74.64, 27.7], "nice": false, "zero": false}, "axis": null},
        "y2": {"datum": -87}
      }
    },
    {
      "data": {"values": [{}]},
      "mark": {"type": "rule", "clip": false, "color": "black", "strokeWidth": 1.3},
      "encoding": {
        "x": {"datum": -71.51, "type": "quantitative", "scale": {"domain": [-66.5, 66.5], "nice": false, "zero": false}, "axis": null},
        "x2": {"datum": 76},
        "y": {"datum": -78.39, "type": "quantitative", "scale": {"domain": [-74.64, 27.7], "nice": false, "zero": false}, "axis": null}
      }
    },
    {
      "data": {"values": [{}]},
      "mark": {"type": "rule", "clip": false, "color": "black", "strokeWidth": 1.3},
      "encoding": {
        "x": {"datum": 0, "type": "quantitative", "scale": {"domain": [-66.5, 66.5], "nice": false, "zero": false}, "axis": null},
        "y": {"datum": -78.39, "type": "quantitative", "scale": {"domain": [-74.64, 27.7], "nice": false, "zero": false}, "axis": null},
        "y2": {"datum": -87}
      }
    }
  ]
}
